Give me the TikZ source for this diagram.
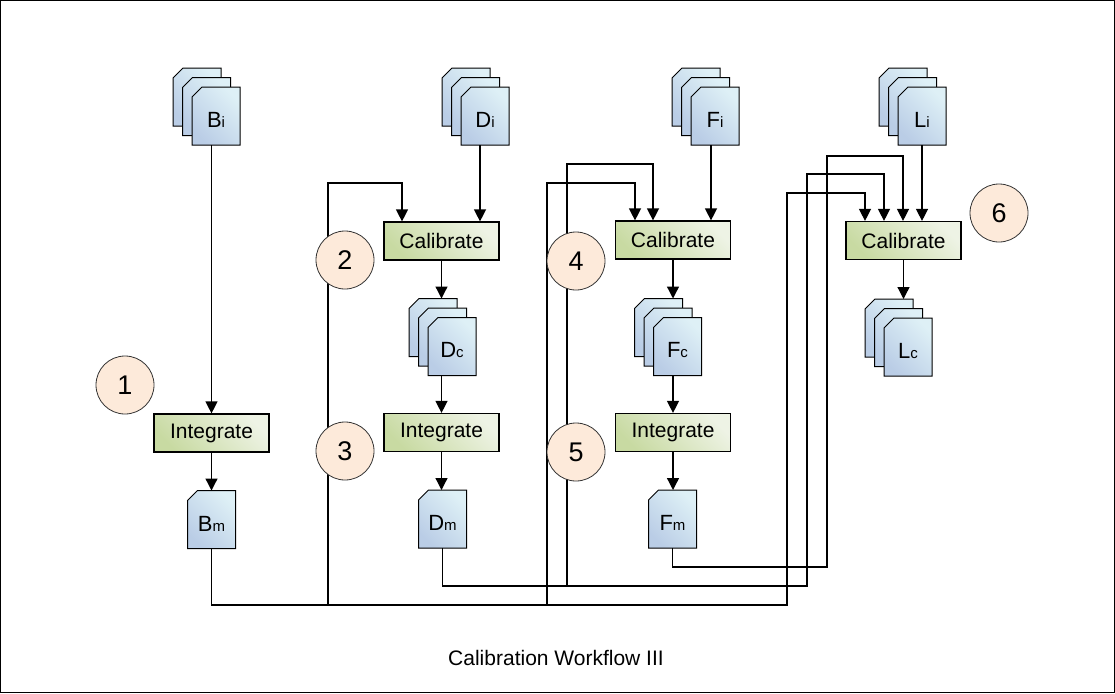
\documentclass[tikz,border=0pt]{standalone}
\usepackage{fontspec}
\setmainfont{Liberation Sans}
\usetikzlibrary{arrows.meta}
\definecolor{boxdark}{RGB}{200,218,162}
\definecolor{boxlight}{RGB}{238,243,229}
\definecolor{docdark}{RGB}{186,205,230}
\definecolor{doclight}{RGB}{222,240,246}
\definecolor{circfill}{RGB}{253,234,218}
\tikzset{
  procbox/.style={draw=black, line width=1.2pt, minimum width=115pt, minimum height=38pt,
    inner sep=0pt, top color=boxlight, bottom color=boxdark, shading angle=-45,
    font=\fontsize{21}{21}\selectfont},
  docline/.style={draw=black, line width=1pt, top color=doclight, bottom color=docdark, shading angle=-45},
  docnode/.style={minimum width=48pt, minimum height=58pt, inner sep=0pt, outer sep=0pt},
  doclabel/.style={inner sep=0pt},
  conn/.style={line width=1.3pt, -{Triangle[length=12pt,width=12pt]}},
  numcirc/.style={circle, draw=black!80, line width=0.8pt, fill=circfill, minimum size=58pt,
    inner sep=0pt, font=\fontsize{27}{27}\selectfont},
  frame/.style={draw=black, line width=1pt},
  titletext/.style={font=\fontsize{21}{21}\selectfont}
}
\newcommand\docshape[2]{%
  \draw[docline] ({#1-14},{#2-29}) -- ({#1+24},{#2-29}) -- ({#1+24},{#2+29}) -- ({#1-24},{#2+29}) -- ({#1-24},{#2-19}) -- cycle;}
\newcommand\doclab[2]{{\fontsize{22}{22}\selectfont #1}{\fontsize{15}{15}\selectfont #2}}
\newcommand\singledoc[4]{%
  \docshape{#2}{#3}
  \node[docnode] (#1) at (#2,#3) {};
  \node[doclabel] (#1-t) at (#2,{#3+4}) {#4};}
\newcommand\stackdoc[4]{%
  \docshape{#2-19}{#3-19}
  \docshape{#2-9.5}{#3-9.5}
  \docshape{#2}{#3}
  \node[docnode] (#1-back) at ({#2-19},{#3-19}) {};
  \node[docnode] (#1) at (#2,#3) {};
  \node[doclabel] (#1-t) at (#2,{#3+4}) {#4};}
\begin{document}
\begin{tikzpicture}[x=1pt,y=-1pt]
\useasboundingbox (0,0) rectangle (1115,693);
\draw[frame] (0.5,0.5) rectangle (1114.5,692.5);

% documents
\stackdoc{Bi}{216}{116}{\doclab{B}{i}}
\stackdoc{Di}{485}{116}{\doclab{D}{i}}
\stackdoc{Fi}{715}{116}{\doclab{F}{i}}
\stackdoc{Li}{922}{116}{\doclab{L}{i}}
\stackdoc{Dc}{452}{346.5}{\doclab{D}{c}}
\stackdoc{Fc}{677.5}{346.5}{\doclab{F}{c}}
\stackdoc{Lc}{908}{347}{\doclab{L}{c}}
\singledoc{Bm}{211.5}{519.5}{\doclab{B}{m}}
\singledoc{Dm}{442.5}{519}{\doclab{D}{m}}
\singledoc{Fm}{672.5}{519}{\doclab{F}{m}}

% process boxes
\node[procbox] (Int1) at (211.5,433) {Integrate};
\node[procbox] (CalD) at (441.5,241) {Calibrate};
\node[procbox] (IntD) at (441.5,432.5) {Integrate};
\node[procbox] (CalF) at (673,240) {Calibrate};
\node[procbox] (IntF) at (673,432.5) {Integrate};
\node[procbox] (CalL) at (903.5,240.5) {Calibrate};

% straight connectors
\draw[conn] (Int1.north |- Bi.south) -- (Int1.north);
\draw[conn] (Int1.south) -- (Int1.south |- Bm.north);
\draw[conn] ([xshift=-5pt]Di.south) -- ([xshift=38.5pt]CalD.north);
\draw[conn] (CalD.south) -- (CalD.south |- Dc-back.north);
\draw[conn] (IntD.north |- Dc.south) -- (IntD.north);
\draw[conn] (IntD.south) -- (IntD.south |- Dm.north);
\draw[conn] ([xshift=-4pt]Fi.south) -- ([xshift=38pt]CalF.north);
\draw[conn] (CalF.south) -- (CalF.south |- Fc-back.north);
\draw[conn] (IntF.north |- Fc.south) -- (IntF.north);
\draw[conn] (IntF.south) -- (IntF.south |- Fm.north);
\draw[conn] (Li.south) -- ([xshift=18.5pt]CalL.north);
\draw[conn] (CalL.south) -- (CalL.south |- Lc-back.north);

% routed connectors
\draw[conn] (Bm.south) |- (328,605) |- (402,183) -- ([xshift=-39.5pt]CalD.north);
\draw[conn] (Bm.south) |- (547,605) |- (635,183) -- ([xshift=-38pt]CalF.north);
\draw[conn] (Bm.south) |- (787,605) |- (865,193) -- ([xshift=-38.5pt]CalL.north);
\draw[conn] (Dm.south) |- (567,586) |- (653,164) -- ([xshift=-20pt]CalF.north);
\draw[conn] (Dm.south) |- (807,586) |- (884,174) -- ([xshift=-19.5pt]CalL.north);
\draw[conn] (Fm.south) |- (827,567) |- (903,156) -- ([xshift=-0.5pt]CalL.north);

% step circles
\node[numcirc] (c1) at (125,385) {1};
\node[numcirc] (c2) at (345,260) {2};
\node[numcirc] (c3) at (345,451) {3};
\node[numcirc] (c4) at (576,261) {4};
\node[numcirc] (c5) at (576,452) {5};
\node[numcirc] (c6) at (999,213) {6};

\node[titletext] (title) at (556,658) {Calibration Workflow III};
\end{tikzpicture}
\end{document}
